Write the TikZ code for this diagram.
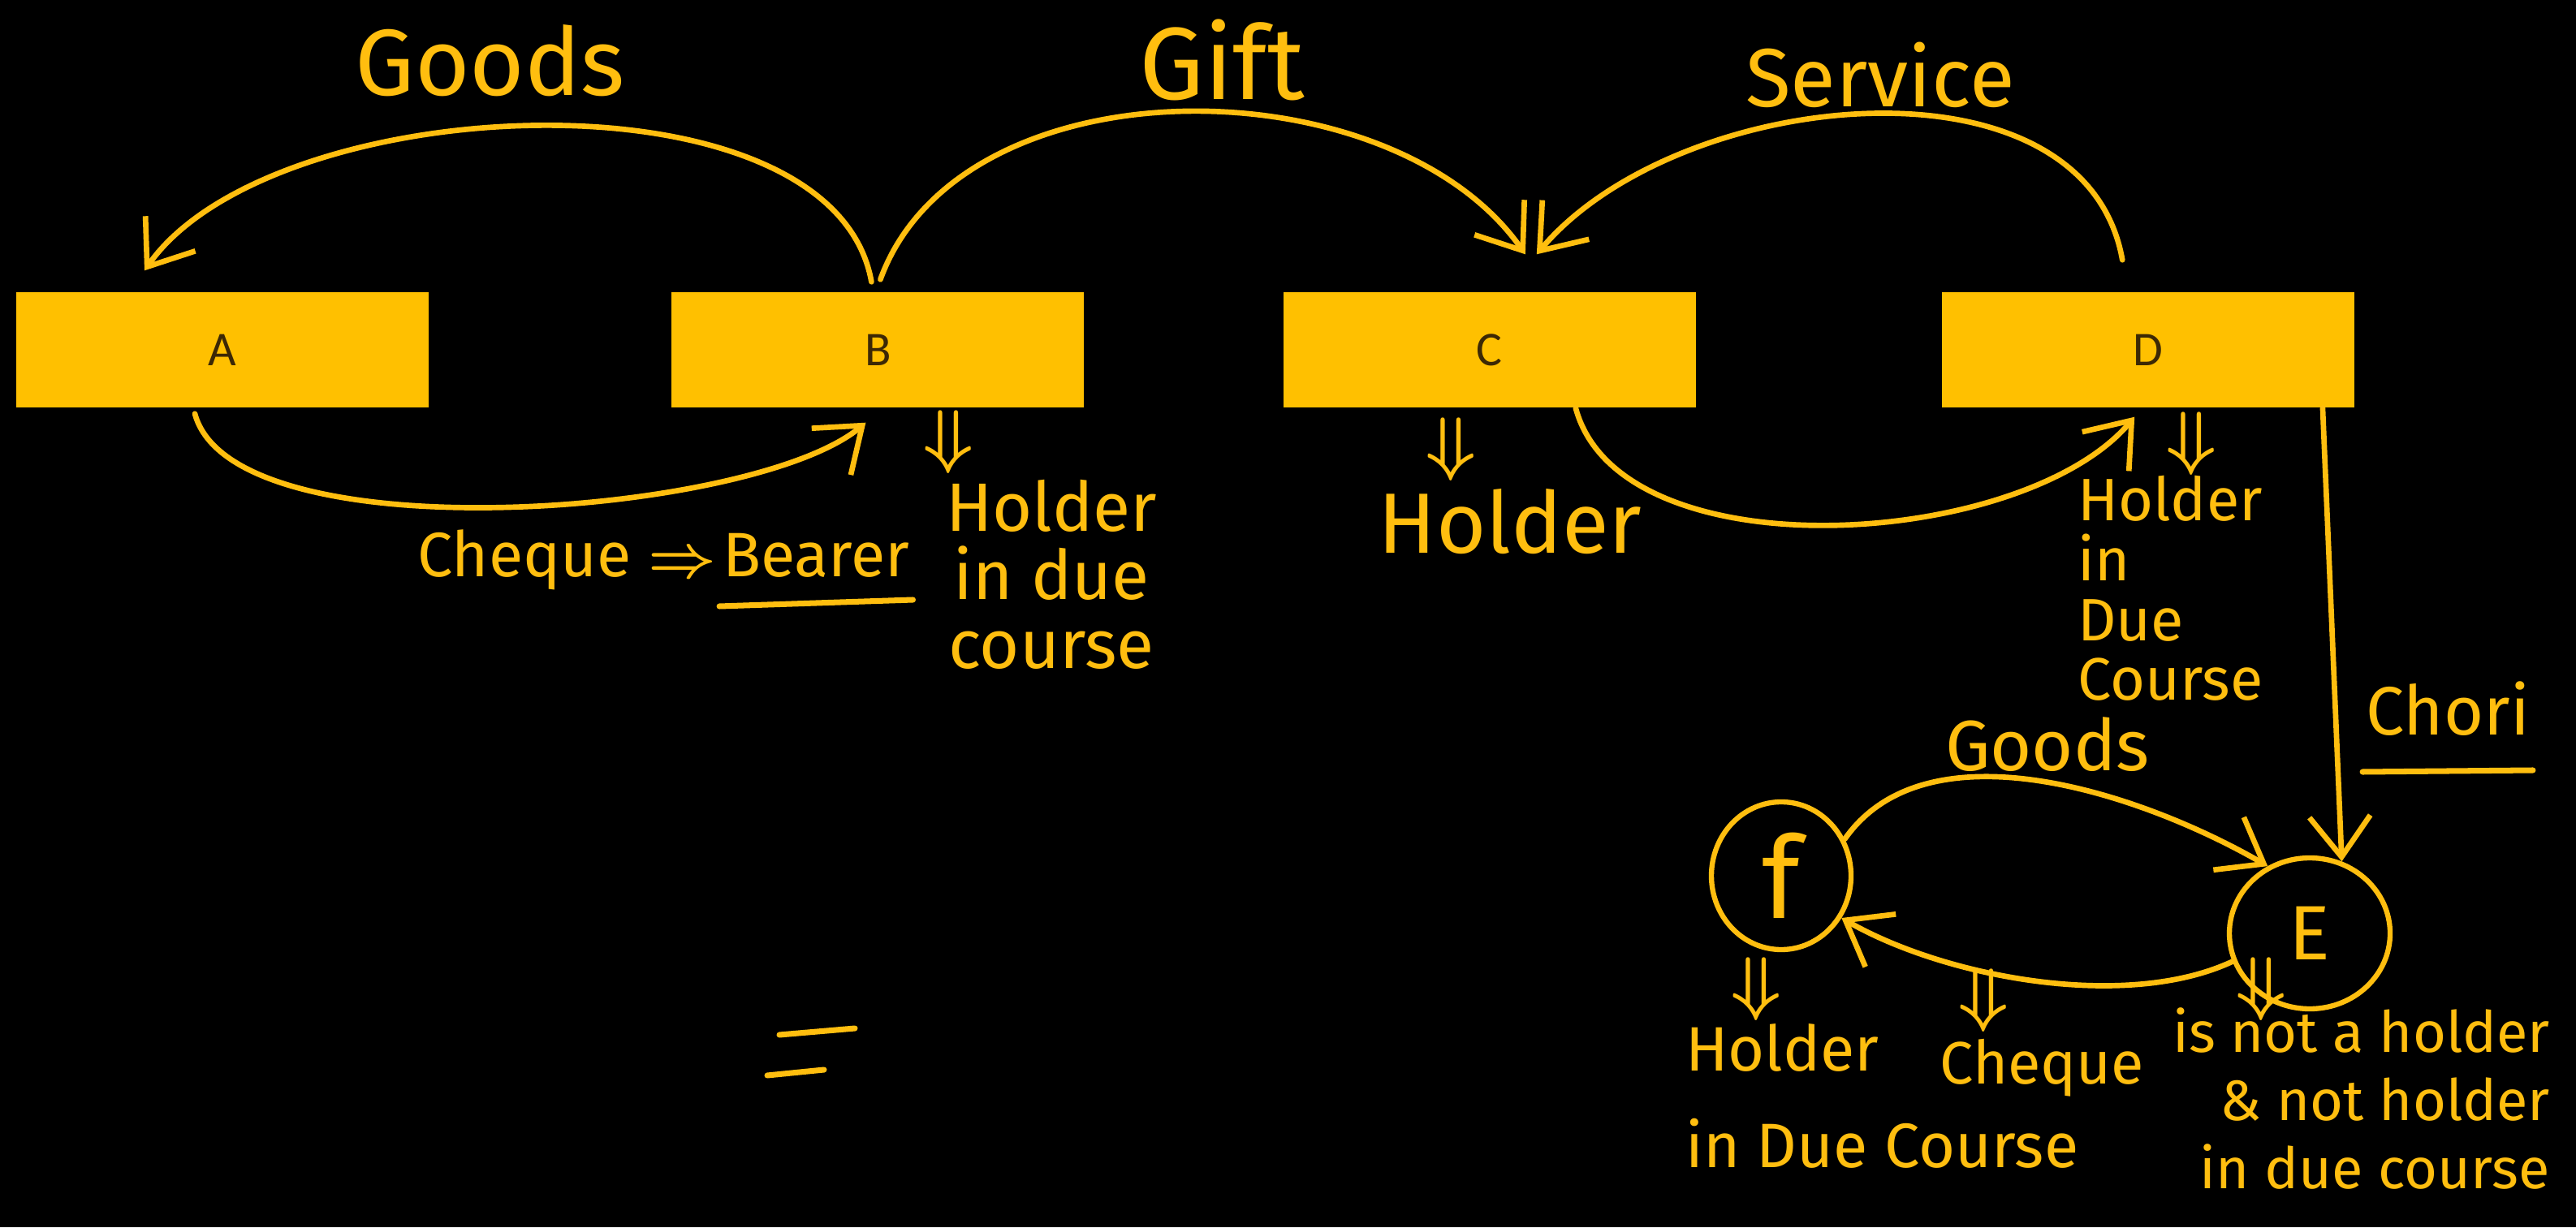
\documentclass[tikz,border=0pt]{standalone}
\usepackage{fontspec}
\usepackage{bm}
\usepackage{tikz}
\usetikzlibrary{arrows.meta,positioning,shapes.geometric}
\newfontfamily\handfont{Fira Sans}
\newfontfamily\boxfont{Carlito}
\newcommand{\impl}{$\bm{\Downarrow}$}
\definecolor{ink}{RGB}{255,190,15}
\definecolor{boxfill}{RGB}{255,192,0}
\definecolor{boxtext}{RGB}{60,40,5}
\tikzset{
    panel/.style = {fill=boxfill, minimum width=5.08cm, minimum height=1.42cm,
        text=boxtext, font=\boxfont\fontsize{17}{19}\selectfont},
    hand/.style = {text=ink, inner sep=1pt, font=\handfont\fontsize{#1}{#1}\selectfont},
    hand/.default = 24,
    party/.style = {ellipse, draw=ink, line width=1.8pt, inner sep=0pt, text=ink},
    flow/.style = {draw=ink, line width=1.9pt, line cap=round,
        -{Straight Barb[length=5mm, width=7.5mm]}},
    stroke/.style = {draw=ink, line width=2pt, line cap=round}
}

\begin{document}
\begin{tikzpicture}[>=latex]
    \path[use as bounding box, fill=black] (0,0) rectangle (31.73,15.12);
    % the four parties in a row
    \node[panel] (A) at (2.74,10.81) {A};
    \node[panel, right=2.98cm of A] (B) {B};
    \node[panel, right=2.44cm of B] (C) {C};
    \node[panel, right=3.02cm of C] (D) {D};
    %
    \node[hand=33, anchor=base] (goods) at (6.04,13.94) {Goods};
    \node[hand=36, anchor=base] (gift) at (15.05,13.89) {Gift};
    \node[hand=29, anchor=base] (service) at (23.16,13.80) {Service};
    \draw[flow] ([xshift=-0.08cm, yshift=0.12cm]B.north) to[out=100, in=55, looseness=0.78]
        ([xshift=-0.96cm, yshift=0.26cm]A.north);
    \draw[flow] ([xshift=0.03cm, yshift=0.15cm]B.north) to[out=70, in=125, looseness=0.93]
        ([xshift=0.44cm, yshift=0.46cm]C.north);
    \draw[flow] ([xshift=-0.32cm, yshift=0.39cm]D.north) to[out=100, in=50, looseness=0.95]
        ([xshift=0.58cm, yshift=0.46cm]C.north);
    \draw[flow] ([xshift=-0.34cm, yshift=-0.07cm]A.south) to[out=-75, in=-140, looseness=0.56]
        ([xshift=-0.15cm, yshift=-0.18cm]B.south);
    \draw[flow] ([xshift=1.06cm]C.south) to[out=-75, in=-130, looseness=0.79]
        ([xshift=-0.17cm, yshift=-0.11cm]D.south);
    %
    \node[hand=22, anchor=base west] (cheq) at (5.10,8.01) {Cheque $\bm{\Rightarrow}$};
    \node[hand=22, anchor=base west] (bearer) at (cheq.base east) {Bearer};
    \draw[stroke] ([yshift=-0.36cm]bearer.base west) -- ([yshift=-0.28cm]bearer.base east);
    \node[hand=28] (bimp) at (11.68,9.67) {\impl};
    \node[hand=24, anchor=north, align=center] (bhold) at (12.95,9.25) {Holder\\in due\\course};
    \node[hand=28] (cimp) at (17.87,9.58) {\impl};
    \node[hand=30, anchor=base] (chold) at (18.60,8.30) {Holder};
    \node[hand=28] (dimp) at (26.99,9.65) {\impl};
    \node[hand=21, anchor=north west, align=left] (dhold) at (25.55,9.30)
        {Holder\\in\\Due\\Course};
    % theft of the cheque from D
    \node[party, minimum width=1.72cm, minimum height=1.82cm,
        font=\handfont\fontsize{40}{40}\selectfont] (F) at (21.94,4.33) {f};
    \node[party, minimum width=1.98cm, minimum height=1.86cm,
        font=\handfont\fontsize{27}{27}\selectfont] (E) at (28.45,3.62) {E};
    \node[hand=24, anchor=base] (chori) at (30.15,6.07) {Chori};
    \draw[stroke] ([yshift=-0.46cm]chori.base west) -- ([yshift=-0.44cm]chori.base east);
    \draw[flow] ([xshift=-0.4cm]D.south east) -- (E.66);
    \node[hand=25, anchor=base] (goodsf) at (25.22,5.63) {Goods};
    \draw[flow] (F.30) to[out=55, in=150, looseness=0.87] (E.122);
    \draw[flow] (E.200) to[out=205, in=-30, looseness=0.77] (F.-35);
    %
    \node[hand=28, inner sep=0pt] (fimp) at (21.63,2.93) {\impl};
    \node[hand=22, anchor=north west, align=left] (fhold) at (20.72,2.55)
        {Holder\\[12pt]in Due Course};
    \node[hand=28] (qimp) at (24.43,2.79) {\impl};
    \node[hand=21, anchor=base] (qhold) at (25.15,1.77) {Cheque};
    \node[hand=28] (eimp) at (27.85,2.93) {\impl};
    \node[hand=20, anchor=north east, align=right] (ehold) at (31.45,2.75)
        {is not a holder\\[4pt]\& not holder\\[4pt]in due course};
    %
    \draw[stroke] (9.60,2.37) -- (10.53,2.45);
    \draw[stroke] (9.45,1.87) -- (10.15,1.94);
\end{tikzpicture}
\end{document}
